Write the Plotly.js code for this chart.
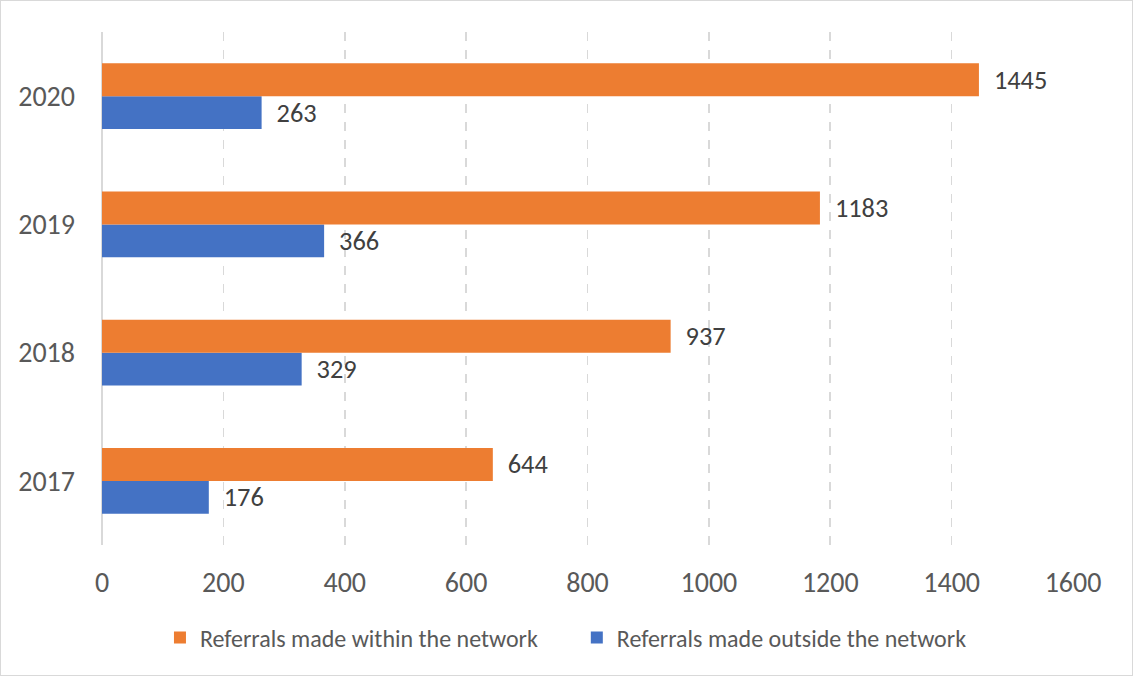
<!DOCTYPE html>
<html>
<head>
<meta charset="utf-8">
<script src="https://cdn.plot.ly/plotly-3.0.1.min.js"></script>
<style>
html,body{margin:0;padding:0;background:#fff;}
#chart{width:1131px;height:674px;border:1px solid #d9d9d9;}
</style>
</head>
<body>
<div id="chart"></div>
<script>
const years = ["2017", "2018", "2019", "2020"];
const withinNetwork = [644, 937, 1183, 1445];
const outsideNetwork = [176, 329, 366, 263];
const seriesNames = ["Referrals made within the network", "Referrals made outside the network"];
const xTicks = [0, 200, 400, 600, 800, 1000, 1200, 1400, 1600];

const FONT = "Carlito, Calibri, Lato, 'Noto Sans', sans-serif";

const traces = [
  {
    type: "bar", orientation: "h",
    name: seriesNames[1], y: years, x: outsideNetwork,
    marker: {color: "#4472c4"},
    texttemplate: "  %{x}", textposition: "outside",
    textfont: {family: FONT, size: 28, color: "#404040"},
    cliponaxis: false, legend: "legend2", hoverinfo: "x+y"
  },
  {
    type: "bar", orientation: "h",
    name: seriesNames[0], y: years, x: withinNetwork,
    marker: {color: "#ed7d31"},
    texttemplate: "  %{x}", textposition: "outside",
    textfont: {family: FONT, size: 28, color: "#404040"},
    cliponaxis: false, legend: "legend", hoverinfo: "x+y"
  }
];

const legendCommon = {
  orientation: "h", xanchor: "left", y: -0.181, yanchor: "middle",
  font: {family: FONT, size: 24, color: "#595959"},
  itemwidth: 30, bgcolor: "rgba(0,0,0,0)"
};

const layout = {
  width: 1131, height: 674,
  margin: {l: 101, r: 59, t: 31, b: 130},
  paper_bgcolor: "#fff", plot_bgcolor: "#fff",
  barmode: "group", bargap: 0.486, bargroupgap: 0,
  font: {family: FONT, color: "#595959"},
  showlegend: true,
  legend: Object.assign({}, legendCommon, {x: 0.0597}),
  legend2: Object.assign({}, legendCommon, {x: 0.489}),
  xaxis: {
    range: [0, 1600], tickvals: xTicks, ticktext: xTicks.map(String),
    showgrid: true, gridcolor: "#d9d9d9", griddash: "dash", gridwidth: 1.6,
    zeroline: true, zerolinecolor: "#d9d9d9", zerolinewidth: 1.6,
    showline: false, ticks: "", ticklabelstandoff: 18,
    tickfont: {family: FONT, size: 28, color: "#595959"},
    fixedrange: true
  },
  yaxis: {
    type: "category", categoryorder: "array", categoryarray: years,
    range: [-0.5, 3.5],
    showgrid: false, zeroline: false, showline: false, ticks: "",
    ticklabelstandoff: 26,
    tickfont: {family: FONT, size: 28, color: "#595959"},
    fixedrange: true
  }
};

Plotly.newPlot("chart", traces, layout, {displayModeBar: false, staticPlot: true});
</script>
</body>
</html>
